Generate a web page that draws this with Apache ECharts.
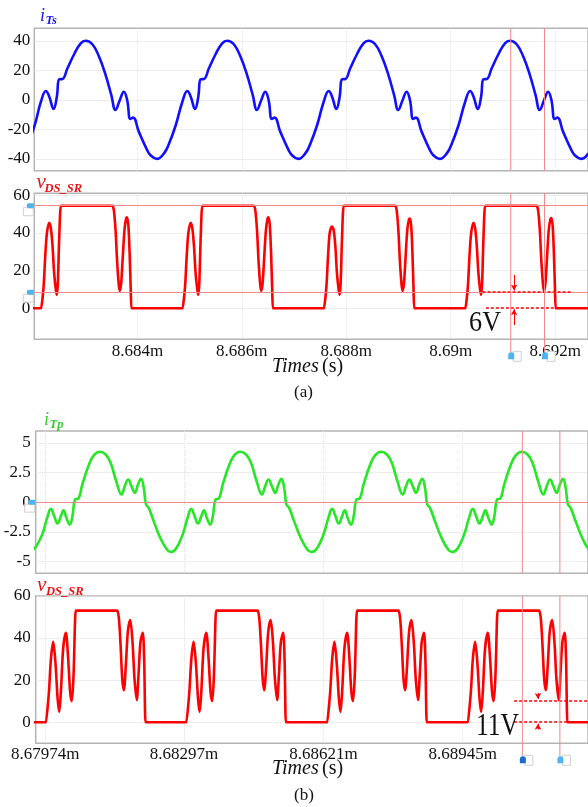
<!DOCTYPE html>
<html>
<head>
<meta charset="utf-8">
<script src="https://cdn.jsdelivr.net/npm/echarts@6/dist/echarts.min.js"></script>
<style>
html,body{margin:0;padding:0;background:#fff;}
#chart{width:588px;height:807px;}
</style>
</head>
<body>
<div id="chart"></div>
<script>
// Times are in microseconds, values in A or V.

// (a) secondary transformer current i_Ts
const itsPoints = [
  [8681.662,-40],[8681.803,-36.1],[8681.899,-29.4],[8682.026,-18],[8682.152,-1.2],[8682.247,6.1],[8682.312,2.2],[8682.394,-6.1],[8682.457,2.2],[8682.502,14],[8682.565,14.2],[8682.660,21.5],[8682.788,31],[8682.914,38.4],[8683.009,40.2],[8683.137,37.8],[8683.264,29.4],[8683.390,17],[8683.499,3.4],[8683.580,-6.8],[8683.664,0],[8683.740,5.6],[8683.803,0],[8683.866,-12.9],[8683.918,-12],[8684.026,-21.5],[8684.184,-33.9],[8684.247,-37.3],[8684.371,-40],
  [8684.512,-36.1],[8684.608,-29.4],[8684.735,-17],[8684.861,-1.2],[8684.956,6.1],[8685.021,2.2],[8685.103,-6.1],[8685.166,2.2],[8685.211,14],[8685.274,14.2],[8685.369,21.5],[8685.497,31],[8685.623,38.4],[8685.718,40.2],[8685.846,37.8],[8685.973,29.4],[8686.099,17],[8686.208,3.4],[8686.289,-6.8],[8686.373,0],[8686.449,5.6],[8686.512,0],[8686.575,-12.9],[8686.627,-12],[8686.735,-21.5],[8686.893,-33.9],[8686.956,-37.3],[8687.079,-40],
  [8687.219,-36.1],[8687.315,-29.4],[8687.442,-17],[8687.568,-1.2],[8687.663,6.1],[8687.728,2.2],[8687.810,-6.1],[8687.873,2.2],[8687.918,14],[8687.981,14.2],[8688.076,21.5],[8688.204,31],[8688.330,38.4],[8688.425,40.2],[8688.553,37.8],[8688.680,29.4],[8688.806,17],[8688.915,3.4],[8688.996,-6.8],[8689.080,0],[8689.156,5.6],[8689.219,0],[8689.282,-12.9],[8689.334,-12],[8689.442,-21.5],[8689.600,-33.9],[8689.663,-37.3],[8689.787,-40],
  [8689.928,-36.1],[8690.024,-29.4],[8690.151,-17],[8690.277,-1.2],[8690.372,6.1],[8690.437,2.2],[8690.519,-6.1],[8690.582,2.2],[8690.627,14],[8690.690,14.2],[8690.785,21.5],[8690.913,31],[8691.039,38.4],[8691.134,40.2],[8691.262,37.8],[8691.389,29.4],[8691.515,17],[8691.624,3.4],[8691.705,-6.8],[8691.789,0],[8691.865,5.6],[8691.928,0],[8691.991,-12.9],[8692.043,-12],[8692.151,-21.5],[8692.309,-33.9],[8692.372,-37.3],[8692.496,-40],[8692.637,-36.1]
];

// (a) synchronous rectifier drain-source voltage
const vdsAPoints = [
  [8681.9,0],
  [8682.159,0],[8682.171,0],[8682.203,11.5],[8682.234,27.4],[8682.266,39.8],[8682.310,45.4],[8682.343,42.4],[8682.375,32.7],[8682.405,18.6],[8682.438,9.7],[8682.457,7.1],[8682.476,13.3],[8682.501,36.2],[8682.533,54.4],[8682.548,54.4],[8683.488,54.4],[8683.518,54.4],[8683.548,52.1],[8683.581,41.5],[8683.613,23.9],[8683.643,12.4],[8683.663,9.2],[8683.689,13.3],[8683.720,27.4],[8683.752,41.5],[8683.784,47.7],[8683.803,48.3],[8683.828,43.3],[8683.853,27.4],[8683.872,9.7],[8683.885,0],[8683.897,0],
  [8684.868,0],[8684.880,0],[8684.912,11.5],[8684.943,27.4],[8684.975,39.8],[8685.019,45.4],[8685.052,42.4],[8685.084,32.7],[8685.114,18.6],[8685.147,9.7],[8685.166,7.1],[8685.185,13.3],[8685.210,36.2],[8685.242,54.4],[8685.257,54.4],[8686.197,54.4],[8686.227,54.4],[8686.257,52.1],[8686.290,41.5],[8686.322,23.9],[8686.352,12.4],[8686.372,9.2],[8686.398,13.3],[8686.429,27.4],[8686.461,41.5],[8686.493,47.7],[8686.512,48.3],[8686.537,43.3],[8686.562,27.4],[8686.581,9.7],[8686.594,0],[8686.606,0],
  [8687.575,0],[8687.587,0],[8687.619,11.5],[8687.650,27.4],[8687.682,39.8],[8687.726,43.4],[8687.759,41.4],[8687.791,32.7],[8687.821,18.6],[8687.854,9.7],[8687.873,7.1],[8687.892,13.3],[8687.917,36.2],[8687.949,54.4],[8687.964,54.4],[8688.904,54.4],[8688.934,54.4],[8688.964,52.1],[8688.997,41.5],[8689.029,23.9],[8689.059,12.4],[8689.079,9.2],[8689.105,13.3],[8689.136,27.4],[8689.168,41.5],[8689.200,47.2],[8689.219,47.6],[8689.244,43.3],[8689.269,27.4],[8689.288,9.7],[8689.301,0],[8689.313,0],
  [8690.284,0],[8690.296,0],[8690.328,11.5],[8690.359,27.4],[8690.391,39.8],[8690.435,45.4],[8690.468,42.4],[8690.500,32.7],[8690.530,18.6],[8690.563,9.7],[8690.582,7.1],[8690.601,13.3],[8690.626,36.2],[8690.658,54.4],[8690.673,54.4],[8691.613,54.4],[8691.643,54.4],[8691.673,52.1],[8691.706,41.5],[8691.738,23.9],[8691.768,12.4],[8691.788,9.2],[8691.814,13.3],[8691.845,27.4],[8691.877,41.5],[8691.909,47.2],[8691.928,47.8],[8691.953,43.3],[8691.978,27.4],[8691.997,9.7],[8692.010,0],[8692.022,0],
  [8692.7,0]
];

// (b) primary transformer current i_Tp
const itpPoints = [
  [8679.384,-4.2],[8679.514,-3.8],[8679.669,-2.74],[8679.784,-1.33],[8679.872,-0.57],[8679.949,-1.18],[8680.025,-1.8],[8680.104,-1.18],[8680.164,-0.68],[8680.233,-1.33],[8680.312,-1.89],[8680.372,-1.2],[8680.435,0.22],[8680.511,0.3],[8680.603,1.49],[8680.758,3.18],[8680.874,3.97],[8681.006,4.25],[8681.145,4.02],[8681.260,3.32],[8681.390,1.77],[8681.515,0.64],[8681.591,1.35],[8681.668,1.91],[8681.746,1.35],[8681.823,0.79],[8681.899,1.5],[8681.968,1.97],[8682.031,1.21],[8682.084,-0.2],[8682.147,-0.48],[8682.262,-1.6],[8682.417,-3.02],[8682.570,-4.0],[8682.653,-4.2],
  [8682.780,-3.92],[8682.935,-2.74],[8683.050,-1.33],[8683.138,-0.57],[8683.215,-1.18],[8683.291,-1.8],[8683.370,-1.18],[8683.430,-0.68],[8683.499,-1.33],[8683.578,-1.89],[8683.638,-1.2],[8683.701,0.22],[8683.777,0.3],[8683.869,1.49],[8684.024,3.18],[8684.140,3.97],[8684.272,4.25],[8684.411,4.02],[8684.526,3.32],[8684.656,1.77],[8684.781,0.64],[8684.857,1.35],[8684.934,1.91],[8685.012,1.35],[8685.089,0.79],[8685.165,1.5],[8685.234,1.97],[8685.297,1.21],[8685.350,-0.2],[8685.413,-0.48],[8685.528,-1.6],[8685.683,-3.02],[8685.836,-4.0],[8685.924,-4.2],
  [8686.056,-3.92],[8686.211,-2.74],[8686.326,-1.33],[8686.414,-0.57],[8686.491,-1.18],[8686.567,-1.8],[8686.646,-1.18],[8686.706,-0.68],[8686.775,-1.33],[8686.854,-1.89],[8686.914,-1.2],[8686.977,0.22],[8687.053,0.3],[8687.145,1.49],[8687.300,3.18],[8687.416,3.97],[8687.548,4.25],[8687.687,4.02],[8687.802,3.32],[8687.932,1.77],[8688.057,0.64],[8688.133,1.35],[8688.210,1.91],[8688.288,1.35],[8688.365,0.79],[8688.441,1.5],[8688.510,1.97],[8688.573,1.21],[8688.626,-0.2],[8688.689,-0.48],[8688.804,-1.6],[8688.959,-3.02],[8689.112,-4.0],[8689.198,-4.2],
  [8689.328,-3.92],[8689.483,-2.74],[8689.598,-1.33],[8689.686,-0.57],[8689.763,-1.18],[8689.839,-1.8],[8689.918,-1.18],[8689.978,-0.68],[8690.047,-1.33],[8690.126,-1.89],[8690.186,-1.2],[8690.249,0.22],[8690.325,0.3],[8690.417,1.49],[8690.572,3.18],[8690.688,3.97],[8690.820,4.25],[8690.959,4.02],[8691.074,3.32],[8691.204,1.77],[8691.329,0.64],[8691.405,1.35],[8691.482,1.91],[8691.560,1.35],[8691.637,0.79],[8691.713,1.5],[8691.782,1.97],[8691.845,1.21],[8691.898,-0.2],[8691.961,-0.48],[8692.076,-1.6],[8692.231,-3.02],[8692.384,-4.0],[8692.470,-4.2]
];

// (b) synchronous rectifier drain-source voltage
const vdsBPoints = [
  [8679.4,0],
  [8679.761,0],[8679.773,0],[8679.826,14.4],[8679.873,30.2],[8679.926,38.1],[8679.981,27.1],[8680.028,11.2],[8680.065,4.9],[8680.104,14.4],[8680.157,35],[8680.220,42.4],[8680.273,30.2],[8680.319,14.4],[8680.358,10],[8680.398,22.3],[8680.435,49.2],[8680.451,52.9],[8680.466,52.9],[8681.386,52.9],[8681.416,52.9],[8681.453,49.2],[8681.492,36.6],[8681.531,20.7],[8681.568,15.2],[8681.615,27.1],[8681.661,42.9],[8681.717,48.5],[8681.770,38.1],[8681.816,20.7],[8681.869,10.5],[8681.909,22.3],[8681.955,38.1],[8682.008,42.4],[8682.040,30.2],[8682.071,0],[8682.083,0],
  [8683.027,0],[8683.039,0],[8683.092,14.4],[8683.139,30.2],[8683.192,38.1],[8683.247,27.1],[8683.294,11.2],[8683.331,4.9],[8683.370,14.4],[8683.423,35],[8683.486,42.4],[8683.539,30.2],[8683.585,14.4],[8683.624,10],[8683.664,22.3],[8683.701,49.2],[8683.717,52.9],[8683.732,52.9],[8684.652,52.9],[8684.682,52.9],[8684.719,49.2],[8684.758,36.6],[8684.797,20.7],[8684.834,15.2],[8684.881,27.1],[8684.927,42.9],[8684.983,48.5],[8685.036,38.1],[8685.082,20.7],[8685.135,10.5],[8685.175,22.3],[8685.221,38.1],[8685.274,42.4],[8685.306,30.2],[8685.337,0],[8685.349,0],
  [8686.303,0],[8686.315,0],[8686.368,14.4],[8686.415,30.2],[8686.468,38.1],[8686.523,27.1],[8686.570,11.2],[8686.607,4.9],[8686.646,14.4],[8686.699,35],[8686.762,42.4],[8686.815,30.2],[8686.861,14.4],[8686.900,10],[8686.940,22.3],[8686.977,49.2],[8686.993,52.9],[8687.008,52.9],[8687.928,52.9],[8687.958,52.9],[8687.995,49.2],[8688.034,36.6],[8688.073,20.7],[8688.110,15.2],[8688.157,27.1],[8688.203,42.9],[8688.259,48.5],[8688.312,38.1],[8688.358,20.7],[8688.411,10.5],[8688.451,22.3],[8688.497,38.1],[8688.550,42.4],[8688.582,30.2],[8688.613,0],[8688.625,0],
  [8689.575,0],[8689.587,0],[8689.640,14.4],[8689.687,30.2],[8689.740,38.1],[8689.795,27.1],[8689.842,11.2],[8689.879,4.9],[8689.918,14.4],[8689.971,35],[8690.034,42.4],[8690.087,30.2],[8690.133,14.4],[8690.172,10],[8690.212,22.3],[8690.249,49.2],[8690.265,52.9],[8690.280,52.9],[8691.200,52.9],[8691.230,52.9],[8691.267,49.2],[8691.306,36.6],[8691.345,20.7],[8691.382,15.2],[8691.429,27.1],[8691.475,42.9],[8691.531,48.5],[8691.584,38.1],[8691.630,20.7],[8691.683,10.5],[8691.723,22.3],[8691.769,38.1],[8691.822,42.4],[8691.854,30.2],[8691.885,0],[8691.897,0],
  [8692.5,0]
];

// Axis ticks
const timeTicksA = [8684, 8686, 8688, 8690, 8692];
const timeTicksB = [8679.74, 8682.97, 8686.21, 8689.45];
const itsTicks = [-40, -20, 0, 20, 40];
const vdsTicks = [0, 20, 40, 60];
const itpTicks = [-5, -2.5, 0, 2.5, 5];

// Measurement cursors
const cursorTimesA = [8691.149, 8691.796];
const cursorLevelsA = [54.4, 8.5];
const cursorTimesB = [8690.838, 8691.711];
const cursorLevelsB = [0];

// Valley-voltage annotations: [low, high] level and the text
const gapA = [0, 8.8];
const gapLabelA = '6V';
const gapB = [0, 10.3];
const gapLabelB = '11V';

const SERIF = '"Liberation Serif","Times New Roman",serif';
const RED = '#ff0000';
const CURSOR = '#f28a8a';

const rangeA = [8682.025, 8692.629];
const rangeB = [8679.518, 8692.365];
const yRanges = [[-48, 48.6], [-16.5, 61], [-6, 6], [-10, 60]];

function timeLabel(v) { return parseFloat((v / 1000).toFixed(5)) + 'm'; }

function xAxis(idx, range, ticks, showLabels) {
  return {
    type: 'value', gridIndex: idx, min: range[0], max: range[1],
    axisLine: {show: false}, axisTick: {show: false, customValues: ticks},
    splitLine: {show: true, lineStyle: {color: '#e2e2e2', type: 'dotted', width: 1}},
    axisLabel: {show: showLabels, customValues: ticks, formatter: timeLabel,
      fontFamily: SERIF, fontSize: 17, color: '#111', margin: idx === 1 ? 4 : 3}
  };
}
function yAxis(idx, ticks, margin) {
  return {
    type: 'value', gridIndex: idx, min: yRanges[idx][0], max: yRanges[idx][1],
    axisLine: {show: false}, axisTick: {show: false, customValues: ticks},
    splitLine: {show: true, lineStyle: {color: '#dcdcdc', type: 'dotted', width: 1}},
    axisLabel: {customValues: ticks, fontFamily: SERIF, fontSize: 17, color: '#111', margin: margin}
  };
}
function grid(left, top, height) {
  return {left: left, top: top, width: 591 - left, height: height, show: true,
    borderColor: '#b4b4b4', borderWidth: 1.5, backgroundColor: 'transparent'};
}
function hLines(levels, range) {
  return levels.map(v => [{coord: [range[0], v]}, {coord: [range[1], v]}]);
}
function gapMarks(gap, tStart, tArrow, arrowLen, range) {
  const dash = {color: RED, type: [3, 2], width: 1.5};
  return [
    [{coord: [tStart[0], gap[1]], lineStyle: dash}, {coord: [tStart[1], gap[1]]}],
    [{coord: [tStart[2], gap[0]], lineStyle: dash}, {coord: [range[1], gap[0]]}],
    [{coord: [tArrow, gap[1] + arrowLen[0]], lineStyle: {color: RED, width: 1}, symbol: 'none'},
     {coord: [tArrow, gap[1] + arrowLen[1]], symbol: 'arrow', symbolSize: [5, 6]}],
    [{coord: [tArrow, gap[0] - arrowLen[0]], lineStyle: {color: RED, width: 1}, symbol: 'none'},
     {coord: [tArrow, gap[0] - arrowLen[1]], symbol: 'arrow', symbolSize: [5, 6]}]
  ];
}

const chart = echarts.init(document.getElementById('chart'), null, {renderer: 'canvas'});

const titleText = (x, y, main, sub, color, subDx, subDy, mainSize) => ([
  {type: 'text', left: x, top: y, z: 50, style: {text: main, fill: color, font: 'italic ' + mainSize + 'px ' + SERIF}},
  {type: 'text', left: x + subDx, top: y + subDy, z: 50, style: {text: sub, fill: color, font: 'italic bold 12.5px ' + SERIF}}
]);

const option = {
  animation: false,
  backgroundColor: '#ffffff',
  grid: [grid(34.3, 28.3, 142.4), grid(34.3, 193.3, 146), grid(35.7, 431, 142.3), grid(35.7, 595.7, 147.6)],
  xAxis: [xAxis(0, rangeA, timeTicksA, false), xAxis(1, rangeA, timeTicksA, true),
          xAxis(2, rangeB, timeTicksB, false), xAxis(3, rangeB, timeTicksB, true)],
  yAxis: [yAxis(0, itsTicks, 4), yAxis(1, vdsTicks, 4), yAxis(2, itpTicks, 5), yAxis(3, vdsTicks, 5)],
  series: [
    {type: 'line', xAxisIndex: 0, yAxisIndex: 0, data: itsPoints, showSymbol: false, smooth: 0.45,
     lineStyle: {color: '#1010ff', width: 2.6}},
    {type: 'line', xAxisIndex: 1, yAxisIndex: 1, data: vdsAPoints, showSymbol: false, smooth: 0.3,
     lineStyle: {color: RED, width: 2.6, join: 'round'}, z: 3,
     markLine: {silent: true, symbol: 'none', label: {show: false}, animation: false,
       lineStyle: {color: CURSOR, width: 1, type: 'solid'},
       data: hLines(cursorLevelsA, rangeA).concat(
         gapMarks(gapA, [8690.610, 8692.324, 8690.673], 8691.213, [8.9, 0.6], rangeA))}},
    {type: 'line', xAxisIndex: 2, yAxisIndex: 2, data: itpPoints, showSymbol: false, smooth: 0.45,
     lineStyle: {color: '#26e626', width: 2.6},
     markLine: {silent: true, symbol: 'none', label: {show: false}, animation: false,
       lineStyle: {color: CURSOR, width: 1, type: 'solid'},
       data: hLines(cursorLevelsB, rangeB)}},
    {type: 'line', xAxisIndex: 3, yAxisIndex: 3, data: vdsBPoints, showSymbol: false, smooth: 0.3,
     lineStyle: {color: RED, width: 2.6, join: 'round'},
     markLine: {silent: true, symbol: 'none', label: {show: false}, animation: false,
       lineStyle: {color: CURSOR, width: 1, type: 'solid'},
       data: gapMarks(gapB, [8690.646, 8692.365, 8690.646], 8691.202, [3.5, 0.7], rangeB)}}
  ],
  graphic: [].concat(
    titleText(40, 7, 'i', 'Ts', '#1a1aee', 5.5, 7, 18),
    titleText(36.5, 172, 'v', 'DS_SR', '#ee1111', 8, 10, 21),
    titleText(44, 411, 'i', 'Tp', '#33cc33', 5.5, 7, 18),
    titleText(37, 575, 'v', 'DS_SR', '#ee1111', 9, 10, 21),
    [
      {type: 'text', left: 272, top: 357, z: 50, style: {rich: {
        a: {font: 'italic 20px ' + SERIF, fill: '#111'}, b: {font: '20px ' + SERIF, fill: '#111'}},
        text: '{a|Times} {b|(s)}'}},
      {type: 'text', left: 272, top: 759, z: 50, style: {rich: {
        a: {font: 'italic 20px ' + SERIF, fill: '#111'}, b: {font: '20px ' + SERIF, fill: '#111'}},
        text: '{a|Times} {b|(s)}'}},
      {type: 'text', left: 294, top: 384, z: 50, style: {text: '(a)', font: '17px ' + SERIF, fill: '#111'}},
      {type: 'text', left: 294, top: 787, z: 50, style: {text: '(b)', font: '17px ' + SERIF, fill: '#111'}}
    ]
  )
};
chart.setOption(option);

// Cursor overlays placed through the axis scales
function px(i, t, v) { return chart.convertToPixel({xAxisIndex: i, yAxisIndex: i}, [t, v]); }
const extra = [];
function vCursor(gi, t, tail) {
  const a = px(gi, t, yRanges[gi][1]);
  const b = px(gi, t, yRanges[gi][0]);
  extra.push({type: 'line', z: 40, shape: {x1: a[0], y1: a[1], x2: b[0], y2: b[1] + tail},
    style: {stroke: CURSOR, lineWidth: 1}});
}
function bottomTab(gi, t, color) {
  const b = px(gi, t, yRanges[gi][0]);
  const y = b[1] + 13;
  extra.push({type: 'rect', z: 45, shape: {x: b[0] + 2.5, y: y - 1, width: 8, height: 10},
    style: {fill: '#fff', stroke: '#d0d0d0', lineWidth: 1}});
  extra.push({type: 'rect', z: 46, shape: {x: b[0] - 2.5, y: y, width: 6, height: 7, r: [3, 3, 0, 0]},
    style: {fill: color}});
}
function sideTab(gi, v, range) {
  const p = px(gi, range[0], v);
  extra.push({type: 'rect', z: 45, shape: {x: p[0] - 11, y: p[1] + 2, width: 10, height: 8},
    style: {fill: '#fff', stroke: '#d0d0d0', lineWidth: 1}});
  extra.push({type: 'rect', z: 46, shape: {x: p[0] - 7.5, y: p[1] - 2.5, width: 7, height: 5, r: [2, 0, 0, 2]},
    style: {fill: '#4fb4ee'}});
}
cursorTimesA.forEach((t, k) => { vCursor(0, t, 0); vCursor(1, t, 13); bottomTab(1, t, '#4fb4ee'); });
cursorTimesB.forEach((t, k) => { vCursor(2, t, 0); vCursor(3, t, 13); bottomTab(3, t, k === 0 ? '#1f6cc4' : '#4fb4ee'); });
cursorLevelsA.forEach(v => sideTab(1, v, rangeA));
cursorLevelsB.forEach(v => sideTab(2, v, rangeB));

// Gap value texts
const la = px(1, 8690.657, -8);
extra.push({type: 'text', z: 50, x: la[0], y: la[1], scaleX: 0.9,
  style: {text: gapLabelA, font: '29px ' + SERIF, fill: '#111', align: 'center', verticalAlign: 'middle'}});
const lb = px(3, 8690.260, -2.1);
extra.push({type: 'text', z: 50, x: lb[0], y: lb[1], scaleX: 0.8,
  style: {text: gapLabelB, font: '32px ' + SERIF, fill: '#111', align: 'center', verticalAlign: 'middle'}});

chart.setOption({graphic: option.graphic.concat(extra)});
</script>
</body>
</html>
